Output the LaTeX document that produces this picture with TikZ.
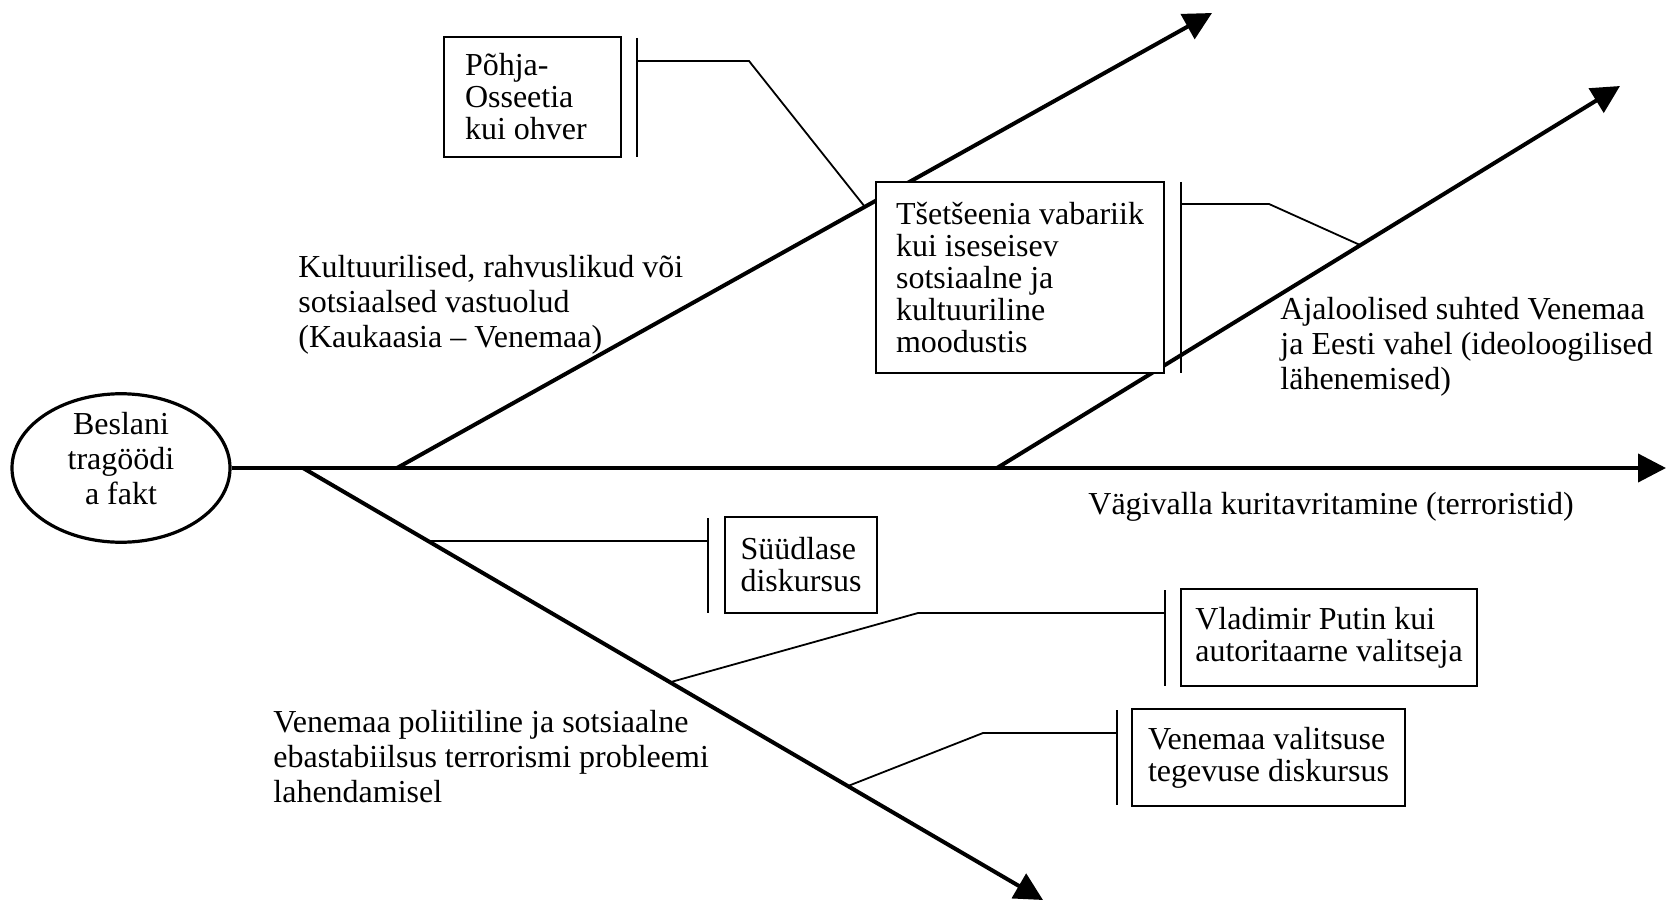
\documentclass[tikz,border=0pt]{standalone}
\usepackage{fontspec}
\setmainfont{Liberation Serif}
\usetikzlibrary{arrows.meta,shapes.geometric}
\begin{document}
\begin{tikzpicture}[x=0.5pt,y=-0.5pt,
  thickline/.style={line width=2pt},
  arr/.style={thickline,-{Triangle[length=14pt,width=14pt]}},
  thinline/.style={line width=0.9pt},
  barline/.style={line width=1pt},
  box/.style={draw,line width=1pt,fill=white,align=left,inner sep=0pt,font=\fontsize{16}{16}\selectfont},
  lbl/.style={align=left,inner sep=0pt,font=\fontsize{16}{17.5}\selectfont}]
\useasboundingbox (0,0) rectangle (1669,903);

% head
\node[ellipse,draw,line width=1.6pt,minimum width=109pt,minimum height=71pt,inner sep=0pt,font=\fontsize{16}{17.5}\selectfont] (fact) at (121,468)
  {\raisebox{3pt}[\height][\depth]{\begin{tabular}{@{}c@{}}Beslani\\tragöödi\\a fakt\end{tabular}}};

% spine and branches
\coordinate (s3) at (303,468);
\coordinate (s1) at (397,468);
\coordinate (s2) at (997,468);
\coordinate (spineEnd) at (1666,468);
\coordinate (e1) at (1212,13);
\coordinate (e2) at (1620,86);
\coordinate (e3) at (1043,900);
\draw[arr] (fact.east) -- (spineEnd);
\draw[arr] (s1) -- (e1);
\draw[arr] (s2) -- (e2);
\draw[arr] (s3) -- (e3);

% connectors
\coordinate (p1) at (865,207); \coordinate (k1) at (749,61); \coordinate (q1) at (637,61);
\coordinate (p2) at (1360,245); \coordinate (k2) at (1269,204); \coordinate (q2) at (1181,204);
\coordinate (p3) at (428,541); \coordinate (q3) at (708,541);
\coordinate (p4) at (671,682); \coordinate (k4) at (918,613); \coordinate (q4) at (1165,613);
\coordinate (p5) at (848,786); \coordinate (k5) at (983,733); \coordinate (q5) at (1117,733);
\draw[thinline] (p1) -- (k1) -- (q1);
\draw[thinline] (p2) -- (k2) -- (q2);
\draw[thinline] (p3) -- (q3);
\draw[thinline] (p4) -- (k4) -- (q4);
\draw[thinline] (p5) -- (k5) -- (q5);

% bars
\coordinate (bt1) at (637,38);  \coordinate (bb1) at (637,157);
\coordinate (bt2) at (1181,182); \coordinate (bb2) at (1181,373);
\coordinate (bt3) at (708,518); \coordinate (bb3) at (708,613);
\coordinate (bt4) at (1165,590); \coordinate (bb4) at (1165,686);
\coordinate (bt5) at (1117,710); \coordinate (bb5) at (1117,805);
\draw[barline] (bt1) -- (bb1);
\draw[barline] (bt2) -- (bb2);
\draw[barline] (bt3) -- (bb3);
\draw[barline] (bt4) -- (bb4);
\draw[barline] (bt5) -- (bb5);

% boxes
\node[box,align=flush left,inner xsep=10.5pt,text width=67.5pt,minimum height=60pt] (osseetia) at (532.5,97) {Põhja-\\Osseetia\\kui ohver};
\node[box,minimum width=144pt,minimum height=95.5pt] (tsetseenia) at (1020,277.5) {Tšetšeenia vabariik\\kui iseseisev\\sotsiaalne ja\\kultuuriline\\moodustis};
\node[box,minimum width=76pt,minimum height=48pt] (syydlane) at (801,565) {Süüdlase\\diskursus};
\node[box,minimum width=148pt,minimum height=48.5pt] (putin) at (1329,637.5) {Vladimir Putin kui\\autoritaarne valitseja};
\node[box,minimum width=136.5pt,minimum height=48.5pt] (valitsus) at (1268.5,757.5) {Venemaa valitsuse\\tegevuse diskursus};

% labels
\node[lbl,anchor=north west] (kult) at (298,255) {Kultuurilised, rahvuslikud või\\sotsiaalsed vastuolud\\(Kaukaasia – Venemaa)};
\node[lbl,anchor=north west] (ajal) at (1280,297) {Ajaloolised suhted Venemaa\\ja Eesti vahel (ideoloogilised\\lähenemised)};
\node[lbl,anchor=base west] (vagi) at (1088,514) {Vägivalla kuritavritamine (terroristid)};
\node[lbl,anchor=north west] (poli) at (273,710) {Venemaa poliitiline ja sotsiaalne\\ebastabiilsus terrorismi probleemi\\lahendamisel};
\end{tikzpicture}
\end{document}
